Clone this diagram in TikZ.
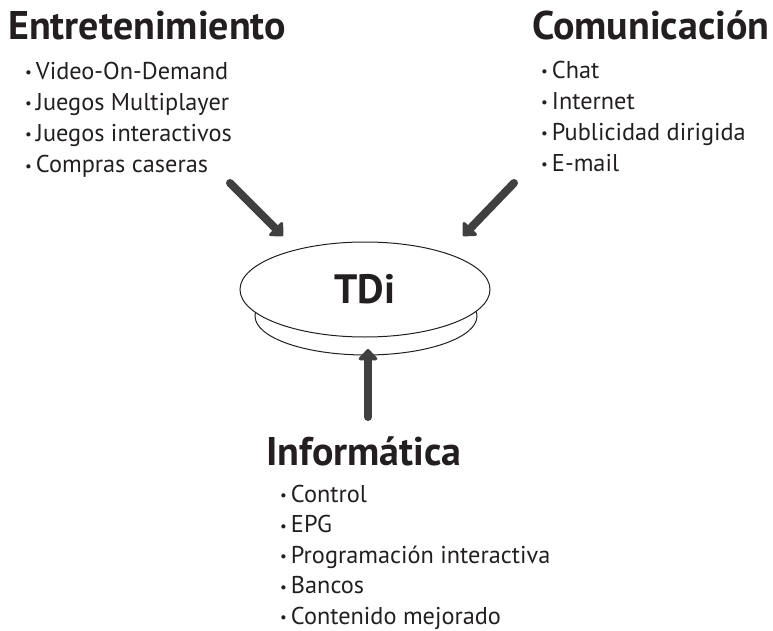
\documentclass[tikz,border=0pt]{standalone}
\usepackage{fontspec}
\setmainfont{PT Sans}
\usetikzlibrary{arrows.meta,shapes.geometric}
\definecolor{ink}{HTML}{231F20}
\definecolor{arrowgray}{HTML}{404040}
\tikzset{
  title/.style={anchor=base west, inner sep=0pt, text=ink, font=\fontsize{40}{40}\selectfont\bfseries},
  item/.style={anchor=base west, inner sep=0pt, text=ink, font=\fontsize{24.3}{24.3}\selectfont},
  bigarrow/.style={draw=arrowgray, line width=8pt, line cap=round,
    -{Triangle[width=22pt 0,length=12pt 0,round]}},
  plate/.style={ellipse, draw=ink, line width=1pt, fill=white, inner sep=0pt}
}
\newcommand{\bul}{{\fontsize{15}{15}\selectfont\raisebox{1.5pt}{•}}\hspace{4pt}}
\begin{document}
\begin{tikzpicture}[x=1pt,y=-1pt]
\useasboundingbox (0,0) rectangle (773,631);
% TDi plate
\node[plate, minimum width=222, minimum height=78] (base) at (366,316) {};
\node[plate, minimum width=250, minimum height=95, font=\fontsize{41}{41}\selectfont\bfseries, text=ink] (tdi) at (365,289.5) {TDi};
% Entretenimiento
\node[title] (ent) at (8,40) {Entretenimiento};
\node[item] (e1) at (25,79.5) {\bul Video-On-Demand};
\node[item] (e2) at (25,110.5) {\bul Juegos Multiplayer};
\node[item] (e3) at (25,141.5) {\bul Juegos interactivos};
\node[item] (e4) at (25,172.5) {\bul Compras caseras};
% Comunicacion
\node[title] (com) at (532,40) {Comunicación};
\node[item] (c1) at (541,78.5) {\bul Chat};
\node[item] (c2) at (541,109.5) {\bul Internet};
\node[item] (c3) at (541,140.5) {\bul Publicidad dirigida};
\node[item] (c4) at (541,171.5) {\bul E-mail};
% Informatica
\node[title] (inf) at (266,465) {Informática};
\node[item] (i1) at (280,502) {\bul Control};
\node[item] (i2) at (280,532.5) {\bul EPG};
\node[item] (i3) at (280,563) {\bul Programación interactiva};
\node[item] (i4) at (280,593.5) {\bul Bancos};
\node[item] (i5) at (280,624) {\bul Contenido mejorado};
% arrows
\coordinate (ls) at (230,183);
\coordinate (lt) at (283,236);
\coordinate (rs) at (514,183);
\coordinate (rt) at (463,236);
\coordinate (bs) at (368,417);
\coordinate (bt) at (368,349);
\draw[bigarrow] (ls) -- (lt);
\draw[bigarrow] (rs) -- (rt);
\draw[bigarrow] (bs) -- (bt);
\end{tikzpicture}
\end{document}
